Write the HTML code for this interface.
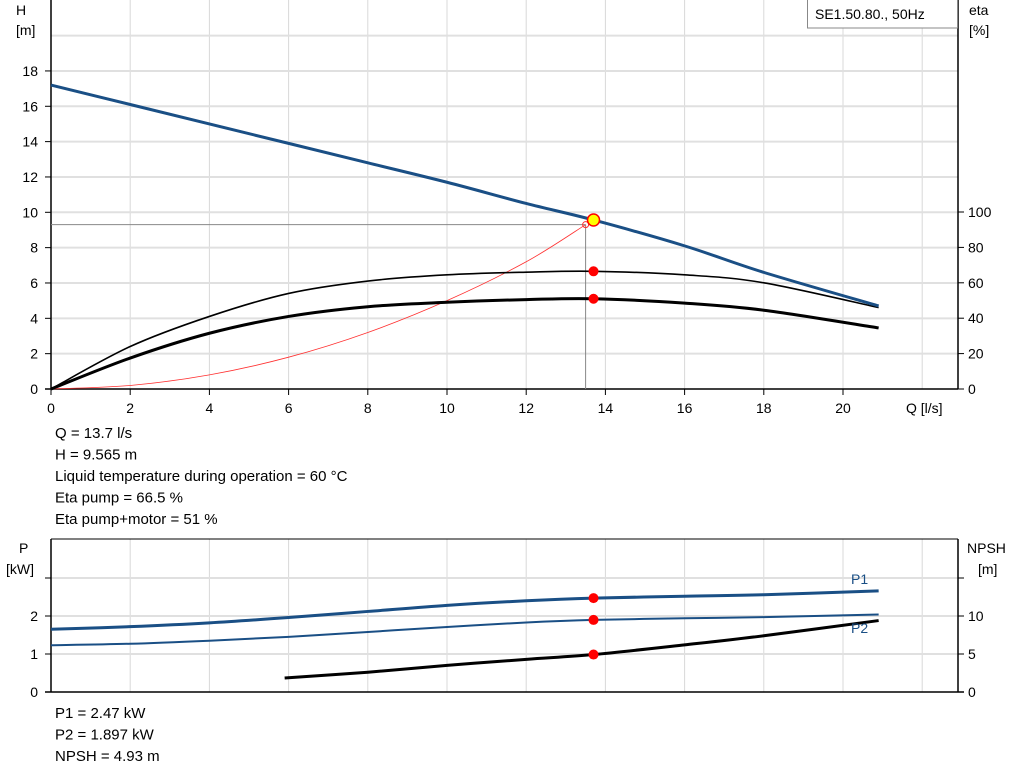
<!DOCTYPE html>
<html><head><meta charset="utf-8"><style>
body{margin:0;background:#fff;}
svg{display:block;font-family:"Liberation Sans",Arial,sans-serif;}
</style></head><body>
<svg id="c" width="1024" height="781" xmlns="http://www.w3.org/2000/svg">
<g id="g"></g>
</svg>
<script>
const qTicks=[0,2,4,6,8,10,12,14,16,18,20];
const hTicks=[0,2,4,6,8,10,12,14,16,18];
const etaTicks=[0,20,40,60,80,100];
const pTicks=[0,1,2];
const npshTicks=[0,5,10];
const qH=[0,2,4,6,8,10,12,13.7,16,18,20.9];
const hVals=[17.2,16.1,15.0,13.9,12.8,11.7,10.5,9.565,8.1,6.6,4.7];
const qEta=[0,2,4,6,8,10,12,13.7,16,18,20.9];
const etaPump=[0,24,41,54,61,64.5,66,66.5,64.5,60,46];
const etaTotal=[0,17.5,31.5,41,46.5,49,50.5,51,48.5,44.5,34.5];
const qSys=[0,2,4,6,8,10,12,13.5];
const hSys=[0,0.2,0.8,1.8,3.2,5.0,7.2,9.3];
const qP=[0,2,4,6,8,10,12,13.7,16,18,20.9];
const p1=[1.65,1.72,1.82,1.96,2.12,2.28,2.40,2.47,2.52,2.56,2.66];
const p2=[1.23,1.27,1.35,1.45,1.58,1.71,1.83,1.897,1.94,1.97,2.04];
const qN=[5.9,8,10,12,13.7,16,18,20.9];
const npsh=[1.84,2.6,3.5,4.3,4.93,6.2,7.4,9.4];
const opQ=13.7,opH=9.565,opEta=66.5,opEtaT=51,opP1=2.47,opP2=1.897,opN=4.93;

const NS='http://www.w3.org/2000/svg';
const g=document.getElementById('g');
const X=q=>51+q*39.6;
const Yh=h=>389-h*17.67;
const Ye=e=>389-e*1.77;
const Yp=p=>692-p*38;
const Yn=n=>692-n*7.6;
function el(t,a,txt){const e=document.createElementNS(NS,t);for(const k in a)e.setAttribute(k,a[k]);if(txt!==undefined)e.textContent=txt;g.appendChild(e);return e;}
function path(xs,ys,fx,fy){return xs.map((x,i)=>(i?'L':'M')+fx(x).toFixed(1)+','+fy(ys[i]).toFixed(1)).join('');}
function smooth(xs,ys,fx,fy){const p=xs.map((x,i)=>[fx(x),fy(ys[i])]);let d='M'+p[0][0]+','+p[0][1];for(let i=0;i<p.length-1;i++){const p0=p[i-1]||p[i],p1=p[i],p2=p[i+1],p3=p[i+2]||p2;const c1=[p1[0]+(p2[0]-p0[0])/6,p1[1]+(p2[1]-p0[1])/6],c2=[p2[0]-(p3[0]-p1[0])/6,p2[1]-(p3[1]-p1[1])/6];d+='C'+c1.join(',')+' '+c2.join(',')+' '+p2.join(',');}return d;}

// top grid
for(let q=2;q<=22;q+=2){const l=el('line',{x1:X(q),x2:X(q),y1:0,y2:389,stroke:'#d8d8d8','stroke-width':1});

}
for(let h=2;h<=20;h+=2){const l=el('line',{x1:51,x2:958,y1:Yh(h),y2:Yh(h),stroke:'#e0e0e0','stroke-width':2});

}
// axes
el('line',{x1:51,x2:51,y1:0,y2:389,stroke:'#000','stroke-width':1.5,});
el('line',{x1:958,x2:958,y1:0,y2:389,stroke:'#000','stroke-width':1.5,});
el('line',{x1:45,x2:958,y1:389,y2:389,stroke:'#000','stroke-width':1.5,});
hTicks.forEach(h=>{el('line',{x1:45,x2:51,y1:Yh(h),y2:Yh(h),stroke:'#000'});
const t=el('text',{x:38,y:Yh(h)+5,'text-anchor':'end','font-size':14},h);

});
etaTicks.forEach(e=>{el('line',{x1:958,x2:964,y1:Ye(e),y2:Ye(e),stroke:'#000'});
const t=el('text',{x:968,y:Ye(e)+5,'font-size':14},e);

});
qTicks.forEach(q=>{el('line',{x1:X(q),x2:X(q),y1:389,y2:395,stroke:'#000'});
const t=el('text',{x:X(q),y:413,'text-anchor':'middle','font-size':14},q);

});
el('text',{x:16,y:15,'font-size':14,},'H');
el('text',{x:16,y:35,'font-size':14,},'[m]');
el('text',{x:969,y:15,'font-size':14,},'eta');
el('text',{x:969,y:35,'font-size':14,},'[%]');
el('text',{x:906,y:413,'font-size':14,},'Q [l/s]');
// legend box
el('rect',{x:807.5,y:-1,width:150,height:29,fill:'#fff',stroke:'#888',});
el('text',{x:815,y:19,'font-size':14,},'SE1.50.80., 50Hz');
// op guide lines
const gx=X(qSys[qSys.length-1]),gy=Yh(hSys[hSys.length-1]);
el('line',{x1:51,x2:gx,y1:gy,y2:gy,stroke:'#888',});
el('line',{x1:gx,x2:gx,y1:gy,y2:389,stroke:'#888',});
// series
el('path',{d:smooth(qSys,hSys,X,Yh),fill:'none',stroke:'#ff3030','stroke-width':0.8,});
el('circle',{cx:gx,cy:gy,r:3,fill:'none',stroke:'#ff3030',});
el('path',{d:smooth(qEta,etaPump,X,Ye),fill:'none',stroke:'#000','stroke-width':1.6,});
el('path',{d:smooth(qEta,etaTotal,X,Ye),fill:'none',stroke:'#000','stroke-width':3,});
el('path',{d:smooth(qH,hVals,X,Yh),fill:'none',stroke:'#1a4f85','stroke-width':3,});
el('circle',{cx:X(opQ),cy:Ye(opEta),r:5,fill:'#f00',});
el('circle',{cx:X(opQ),cy:Ye(opEtaT),r:5,fill:'#f00',});
el('circle',{cx:X(opQ),cy:Yh(opH),r:6,fill:'#ffff00',stroke:'#f00','stroke-width':1.5,});
// info text
['Q = 13.7 l/s','H = 9.565 m','Liquid temperature during operation = 60 °C','Eta pump = 66.5 %','Eta pump+motor = 51 %'].forEach((s,i)=>{
const t=el('text',{x:55,y:438+i*21.5,'font-size':15},s);

});

// bottom chart
for(let q=2;q<=22;q+=2){const l=el('line',{x1:X(q),x2:X(q),y1:539,y2:692,stroke:'#d8d8d8'});

}
[1,2,3].forEach(p=>{const l=el('line',{x1:51,x2:958,y1:Yp(p),y2:Yp(p),stroke:'#e0e0e0','stroke-width':2});

});
el('line',{x1:51,x2:958,y1:539,y2:539,stroke:'#000',});
el('line',{x1:51,x2:51,y1:539,y2:692,stroke:'#000','stroke-width':1.5,});
el('line',{x1:958,x2:958,y1:539,y2:692,stroke:'#000','stroke-width':1.5,});
el('line',{x1:45,x2:964,y1:692,y2:692,stroke:'#000','stroke-width':1.5,});
[0,1,2,3].forEach(p=>el('line',{x1:45,x2:51,y1:Yp(p),y2:Yp(p),stroke:'#000'}));
[0,5,10,15].forEach(n=>el('line',{x1:958,x2:964,y1:Yn(n),y2:Yn(n),stroke:'#000'}));
pTicks.forEach(p=>{const t=el('text',{x:38,y:Yp(p)+5,'text-anchor':'end','font-size':14},p);

});
npshTicks.forEach(n=>{const t=el('text',{x:968,y:Yn(n)+5,'font-size':14},n);

});
el('text',{x:19,y:553,'font-size':14,},'P');
el('text',{x:6,y:574,'font-size':14,},'[kW]');
el('text',{x:967,y:553,'font-size':14,},'NPSH');
el('text',{x:978,y:574,'font-size':14,},'[m]');
el('path',{d:smooth(qP,p1,X,Yp),fill:'none',stroke:'#1a4f85','stroke-width':3,});
el('path',{d:smooth(qP,p2,X,Yp),fill:'none',stroke:'#1a4f85','stroke-width':2,});
el('path',{d:smooth(qN,npsh,X,Yn),fill:'none',stroke:'#000','stroke-width':3,});
el('text',{x:851,y:584,'font-size':14,fill:'#1a4f85',},'P1');
el('text',{x:851,y:633,'font-size':14,fill:'#1a4f85',},'P2');
el('circle',{cx:X(opQ),cy:Yp(opP1),r:5,fill:'#f00',});
el('circle',{cx:X(opQ),cy:Yp(opP2),r:5,fill:'#f00',});
el('circle',{cx:X(opQ),cy:Yn(opN),r:5,fill:'#f00',});
['P1 = 2.47 kW','P2 = 1.897 kW','NPSH = 4.93 m'].forEach((s,i)=>{
const t=el('text',{x:55,y:718+i*21.5,'font-size':15},s);

});
</script>
</body></html>
